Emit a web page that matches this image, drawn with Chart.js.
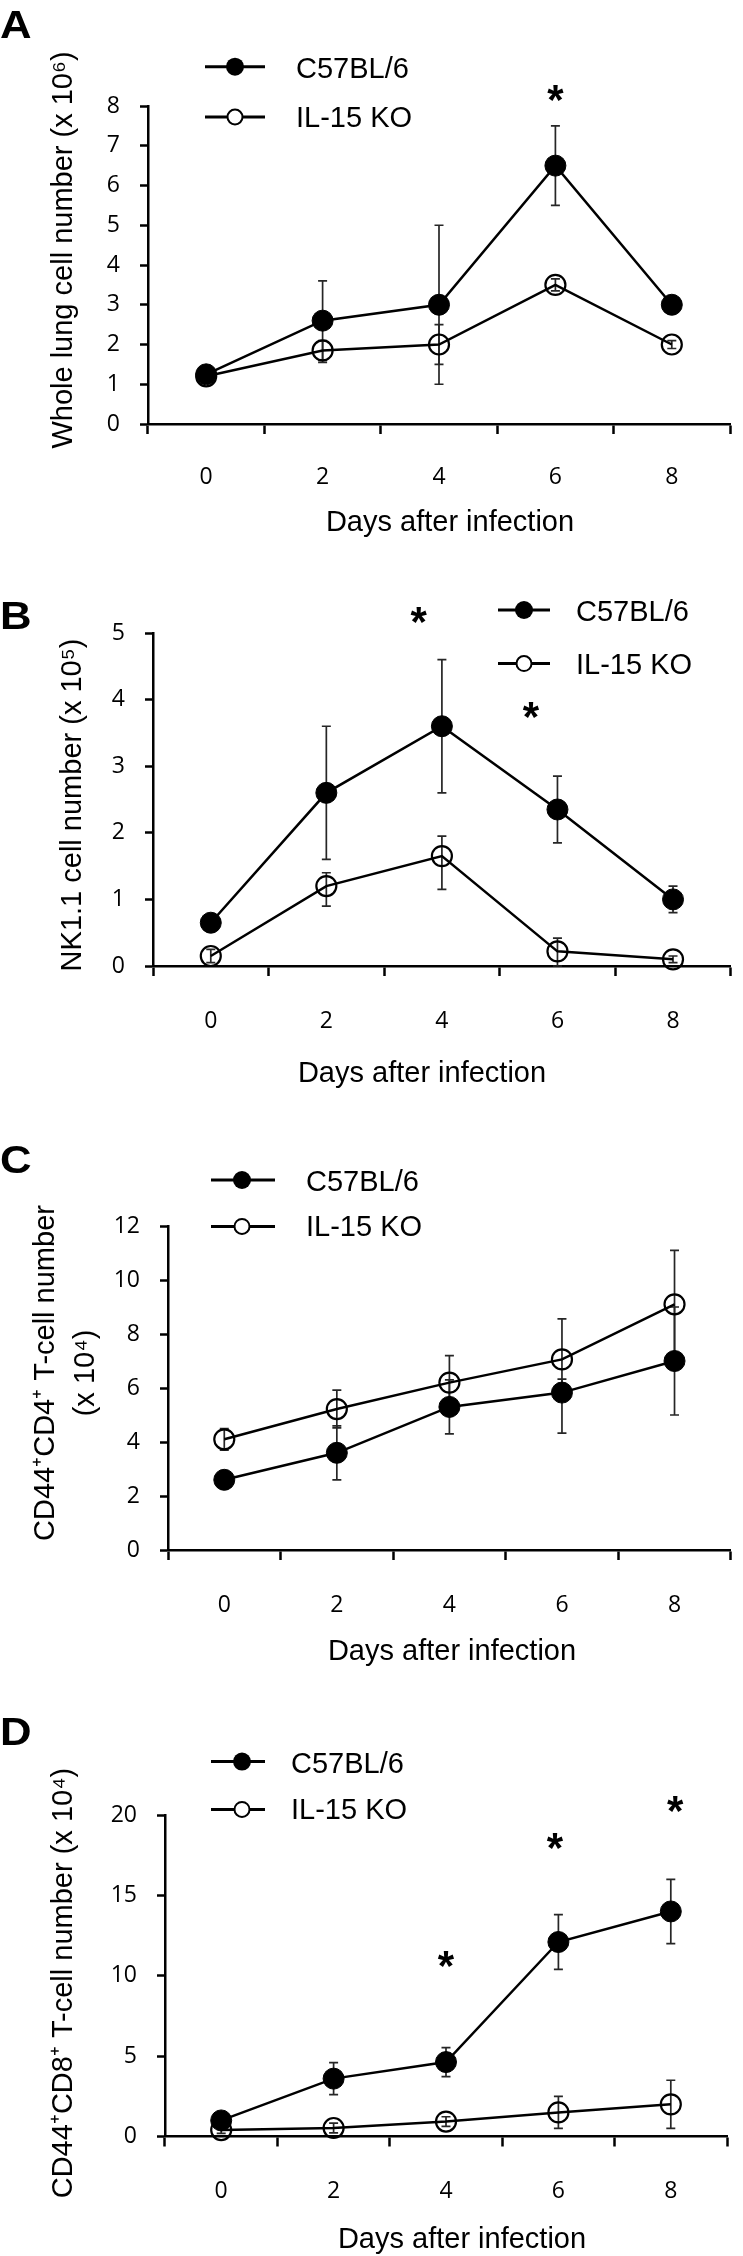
<!DOCTYPE html>
<html>
<head>
<meta charset="utf-8">
<script src="https://cdn.jsdelivr.net/npm/chart.js@4.4.1/dist/chart.umd.min.js"></script>
<style>
  html, body { margin: 0; padding: 0; background: #fff; }
  body { width: 743px; height: 2256px; position: relative; overflow: hidden; }
  canvas { position: absolute; left: 0; }
</style>
</head>
<body>
<canvas id="panelA" width="743" height="560" style="top:0px"></canvas>
<canvas id="panelB" width="743" height="560" style="top:560px"></canvas>
<canvas id="panelC" width="743" height="560" style="top:1120px"></canvas>
<canvas id="panelD" width="743" height="576" style="top:1680px"></canvas>
<script>
// ---------------- data ----------------
const days = ['0', '2', '4', '6', '8'];
const seriesNames = ['C57BL/6', 'IL-15 KO'];

// Panel A: whole lung cell number (x 10^6)
const aYRange = [0, 8, 1];
const aC57 = [1.25, 2.6, 3.0, 6.5, 3.0];
const aC57Up = [0.1, 1.0, 2.0, 1.0, 0.1];
const aC57Down = [0.1, 1.0, 2.0, 1.0, 0.1];
const aKO = [1.2, 1.85, 2.0, 3.5, 2.0];
const aKOUp = [0.1, 0.25, 0.5, 0.15, 0.1];
const aKODown = [0.1, 0.3, 0.5, 0.15, 0.1];
const aStarX = [3.0];
const aStarY = [8.03];

// Panel B: NK1.1 cell number (x 10^5)
const bYRange = [0, 5, 1];
const bC57 = [0.65, 2.6, 3.6, 2.35, 1.0];
const bC57Up = [0.05, 1.0, 1.0, 0.5, 0.2];
const bC57Down = [0.05, 1.0, 1.0, 0.5, 0.2];
const bKO = [0.15, 1.2, 1.65, 0.22, 0.1];
const bKOUp = [0.1, 0.2, 0.3, 0.2, 0.05];
const bKODown = [0.1, 0.3, 0.5, 0.22, 0.05];
const bStarX = [1.8, 2.77];
const bStarY = [5.1, 3.84];

// Panel C: CD44+CD4+ T-cell number (x 10^4)
const cYRange = [0, 12, 2];
const cC57 = [2.6, 3.6, 5.3, 5.83, 7.0];
const cC57Up = [0.1, 1.0, 1.0, 0.5, 2.0];
const cC57Down = [0.1, 1.0, 1.0, 1.5, 2.0];
const cKO = [4.1, 5.22, 6.2, 7.06, 9.1];
const cKOUp = [0.4, 0.7, 1.0, 1.5, 2.0];
const cKODown = [0.4, 0.7, 1.0, 1.5, 2.0];
const cStarX = [];
const cStarY = [];

// Panel D: CD44+CD8+ T-cell number (x 10^4)
const dYRange = [0, 20, 5];
const dC57 = [1.0, 3.6, 4.63, 12.1, 14.0];
const dC57Up = [0.3, 1.0, 0.9, 1.7, 2.0];
const dC57Down = [0.3, 1.0, 0.9, 1.7, 2.0];
const dKO = [0.4, 0.53, 0.93, 1.5, 2.0];
const dKOUp = [0.2, 0.3, 0.3, 1.0, 1.5];
const dKODown = [0.2, 0.3, 0.3, 1.0, 1.5];
const dStarX = [2.0, 2.97, 4.04];
const dStarY = [10.3, 18.4, 20.7];

// ---------------- layout / style ----------------
const TEXT_FONT = '"Liberation Sans", Arial, sans-serif';
const TICK_FONT = '"Open Sans", "Liberation Sans", sans-serif';

const panels = {
  panelA: {
    letter: 'A', letterY: 24,
    H: 560, area: { top: 106, bottom: 424, left: 148, right: 730 }, xPad: 30,
    yRange: aYRange, c57: aC57, c57Up: aC57Up, c57Down: aC57Down,
    ko: aKO, koUp: aKOUp, koDown: aKODown, starX: aStarX, starY: aStarY,
    legend: { x1: 205, x2: 265, mx: 235, rows: [66.7, 117], tx: 296 },
    yTitle: { lines: ['Whole lung cell number (x 10\u2076)'], xs: [64], y: 250 },
    xTitle: { x: 450, y: 523 }
  },
  panelB: {
    letter: 'B', letterY: 55,
    H: 560, area: { top: 73, bottom: 406, left: 153, right: 732 }, xPad: 32,
    yRange: bYRange, c57: bC57, c57Up: bC57Up, c57Down: bC57Down,
    ko: bKO, koUp: bKOUp, koDown: bKODown, starX: bStarX, starY: bStarY,
    legend: { x1: 498, x2: 550, mx: 524, rows: [50, 103.6], tx: 576 },
    yTitle: { lines: ['NK1.1 cell number (x 10\u2075)'], xs: [73], y: 245 },
    xTitle: { x: 422, y: 514 }
  },
  panelC: {
    letter: 'C', letterY: 39,
    H: 560, area: { top: 106, bottom: 430, left: 168, right: 742 }, xPad: 32,
    yRange: cYRange, c57: cC57, c57Up: cC57Up, c57Down: cC57Down,
    ko: cKO, koUp: cKOUp, koDown: cKODown, starX: cStarX, starY: cStarY,
    legend: { x1: 211, x2: 275, mx: 242, rows: [60, 106.4], tx: 306 },
    yTitle: { lines: ['CD44\u207ACD4\u207A T-cell number', '(x 10\u2074)'], xs: [46, 86], y: 253 },
    xTitle: { x: 452, y: 532 }
  },
  panelD: {
    letter: 'D', letterY: 51,
    H: 576, area: { top: 135, bottom: 456.5, left: 165, right: 727 }, xPad: 31,
    yRange: dYRange, c57: dC57, c57Up: dC57Up, c57Down: dC57Down,
    ko: dKO, koUp: dKOUp, koDown: dKODown, starX: dStarX, starY: dStarY,
    legend: { x1: 211, x2: 265, mx: 242, rows: [81.6, 129.4], tx: 291 },
    yTitle: { lines: ['CD44\u207ACD8\u207A T-cell number (x 10\u2074)'], xs: [64], y: 303 },
    xTitle: { x: 462, y: 560 }
  }
};

function centerText(ctx, text, x, y) {
  const m = ctx.measureText(text);
  const asc = m.actualBoundingBoxAscent, desc = m.actualBoundingBoxDescent;
  ctx.textBaseline = 'alphabetic';
  ctx.fillText(text, x, y + (asc - desc) / 2);
}

const decoPlugin = {
  id: 'deco',
  beforeDatasetsDraw(chart) {
    const p = panels[chart.canvas.id];
    const xs = chart.scales.x, ys = chart.scales.y;
    const ctx = chart.ctx;
    ctx.save();
    ctx.strokeStyle = '#262626';
    ctx.lineWidth = 1.7;
    const sets = [[p.c57, p.c57Up, p.c57Down], [p.ko, p.koUp, p.koDown]];
    sets.forEach(([vals, up, down]) => {
      vals.forEach((v, j) => {
        const x = xs.getPixelForValue(j);
        const yT = ys.getPixelForValue(v + up[j]);
        const yB = ys.getPixelForValue(v - down[j]);
        ctx.beginPath();
        ctx.moveTo(x, yT); ctx.lineTo(x, yB);
        ctx.moveTo(x - 4.5, yT); ctx.lineTo(x + 4.5, yT);
        ctx.moveTo(x - 4.5, yB); ctx.lineTo(x + 4.5, yB);
        ctx.stroke();
      });
    });
    ctx.restore();
  },
  afterDraw(chart) {
    const p = panels[chart.canvas.id];
    const ctx = chart.ctx;
    const xs = chart.scales.x, ys = chart.scales.y;
    ctx.save();
    ctx.fillStyle = '#000';
    ctx.strokeStyle = '#000';
    // panel letter (slightly widened like the original)
    ctx.save();
    ctx.font = 'bold 38px ' + TEXT_FONT;
    ctx.textAlign = 'left';
    ctx.scale(1.15, 1);
    centerText(ctx, p.letter, 0, p.letterY);
    ctx.restore();
    // legend
    const L = p.legend;
    ctx.font = '29px ' + TEXT_FONT;
    L.rows.forEach((ry, i) => {
      ctx.lineWidth = 3;
      ctx.beginPath(); ctx.moveTo(L.x1, ry); ctx.lineTo(L.x2, ry); ctx.stroke();
      ctx.beginPath();
      if (i === 0) {
        ctx.arc(L.mx, ry, 9, 0, Math.PI * 2); ctx.fill();
      } else {
        ctx.fillStyle = '#fff';
        ctx.arc(L.mx, ry, 7.5, 0, Math.PI * 2); ctx.fill();
        ctx.lineWidth = 2; ctx.stroke();
        ctx.fillStyle = '#000';
      }
      ctx.textAlign = 'left';
      centerText(ctx, seriesNames[i], L.tx, ry);
    });
    // y title
    ctx.font = '29px ' + TEXT_FONT;
    p.yTitle.lines.forEach((t, i) => {
      ctx.save();
      ctx.translate(p.yTitle.xs[i], p.yTitle.y);
      ctx.rotate(-Math.PI / 2);
      ctx.textAlign = 'center';
      ctx.textBaseline = 'middle';
      ctx.fillText(t, 0, 0);
      ctx.restore();
    });
    // x title
    ctx.textAlign = 'center';
    ctx.textBaseline = 'middle';
    ctx.fillText('Days after infection', p.xTitle.x, p.xTitle.y);
    // significance stars
    ctx.font = 'bold 42px ' + TEXT_FONT;
    p.starX.forEach((sx, i) => {
      ctx.textAlign = 'center';
      centerText(ctx, '*', xs.getPixelForValue(sx), ys.getPixelForValue(p.starY[i]));
    });
    ctx.restore();
  }
};

function makeChart(id) {
  const p = panels[id];
  const a = p.area;
  const tickFont = { family: TICK_FONT, size: 23 };
  new Chart(document.getElementById(id), {
    type: 'line',
    data: {
      labels: days,
      datasets: [
        {
          label: seriesNames[0], data: p.c57,
          borderColor: '#000', borderWidth: 2.5, tension: 0,
          pointRadius: 10.5, pointBackgroundColor: '#000', pointBorderColor: '#000',
          pointBorderWidth: 1, clip: false
        },
        {
          label: seriesNames[1], data: p.ko,
          borderColor: '#000', borderWidth: 2.5, tension: 0,
          pointRadius: 10, pointBackgroundColor: 'rgba(0,0,0,0)', pointBorderColor: '#000',
          pointBorderWidth: 2.2, clip: false
        }
      ]
    },
    options: {
      responsive: false,
      animation: false,
      devicePixelRatio: 1,
      layout: { padding: { left: 0, top: a.top, right: 743 - a.right, bottom: 0 } },
      plugins: { legend: { display: false }, tooltip: { enabled: false }, title: { display: false } },
      scales: {
        x: {
          type: 'category',
          offset: true,
          grid: { offset: true, drawOnChartArea: false, drawTicks: true, tickLength: 10,
                  tickColor: '#000', tickWidth: 2.5 },
          border: { display: true, color: '#000', width: 2.5 },
          ticks: { color: '#000', font: tickFont, padding: p.xPad, maxRotation: 0 },
          afterFit(s) { s.height = p.H - a.bottom; }
        },
        y: {
          type: 'linear',
          min: p.yRange[0], max: p.yRange[1],
          grid: { drawOnChartArea: false, drawTicks: true, tickLength: 8,
                  tickColor: '#000', tickWidth: 2.5 },
          border: { display: true, color: '#000', width: 2.5 },
          ticks: { color: '#000', font: tickFont, padding: 20, stepSize: p.yRange[2] },
          afterFit(s) { s.width = a.left; }
        }
      }
    },
    plugins: [decoPlugin]
  });
}

['panelA', 'panelB', 'panelC', 'panelD'].forEach(makeChart);
</script>
</body>
</html>
